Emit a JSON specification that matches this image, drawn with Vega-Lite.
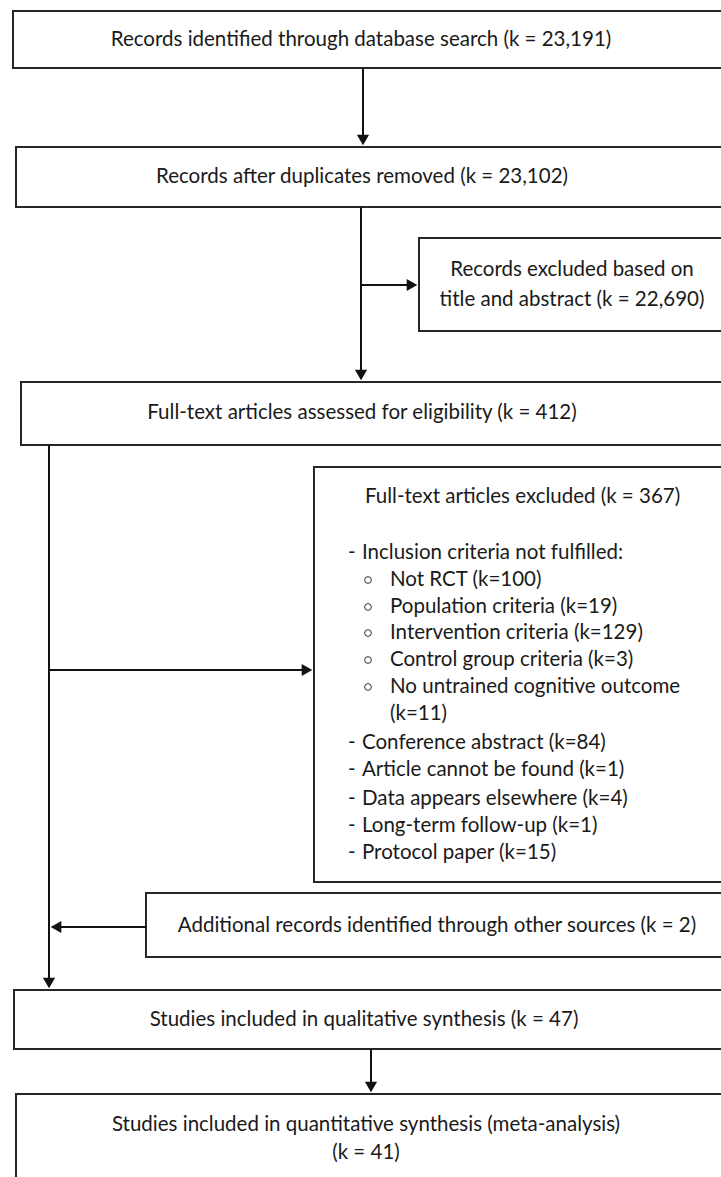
{
  "$schema": "https://vega.github.io/schema/vega-lite/v6.json",
  "width": 721,
  "height": 1177,
  "autosize": {"type": "fit", "contains": "padding"},
  "padding": 0,
  "background": "white",
  "config": {"view": {"stroke": null}, "text": {"font": "Lato", "fontSize": 20.5, "color": "#1a1a1a"}},
  "datasets": {
    "boxes": [
      {"box": "identified", "x1": 13, "x2": 730, "y1": 11, "y2": 68},
      {"box": "deduplicated", "x1": 16, "x2": 730, "y1": 147, "y2": 207},
      {"box": "excluded_title", "x1": 419, "x2": 730, "y1": 238, "y2": 331},
      {"box": "fulltext", "x1": 21, "x2": 730, "y1": 382, "y2": 445},
      {"box": "excluded_fulltext", "x1": 314, "x2": 730, "y1": 467, "y2": 882},
      {"box": "additional", "x1": 146, "x2": 730, "y1": 893, "y2": 957},
      {"box": "qualitative", "x1": 14, "x2": 730, "y1": 990, "y2": 1049},
      {"box": "quantitative", "x1": 16, "x2": 730, "y1": 1094, "y2": 1200}
    ],
    "connectors": [
      {"x1": 363, "y1": 68, "x2": 363, "y2": 140},
      {"x1": 361, "y1": 207, "x2": 361, "y2": 375},
      {"x1": 361, "y1": 285, "x2": 410, "y2": 285},
      {"x1": 49, "y1": 445, "x2": 49, "y2": 982},
      {"x1": 49, "y1": 670, "x2": 306, "y2": 670},
      {"x1": 146, "y1": 927, "x2": 56, "y2": 927},
      {"x1": 371, "y1": 1049, "x2": 371, "y2": 1087}
    ],
    "heads": [
      {"x": 363, "y": 140, "dir": "down"},
      {"x": 361, "y": 375, "dir": "down"},
      {"x": 412, "y": 285, "dir": "right"},
      {"x": 307, "y": 670, "dir": "right"},
      {"x": 56, "y": 927, "dir": "left"},
      {"x": 49, "y": 983, "dir": "down"},
      {"x": 371, "y": 1087, "dir": "down"}
    ],
    "labels": [
      {"text": "Records identified through database search (k = 23,191)", "x": 361, "y": 40},
      {"text": "Records after duplicates removed (k = 23,102)", "x": 362, "y": 177},
      {"text": "Records excluded based on", "x": 572, "y": 270},
      {"text": "title and abstract (k = 22,690)", "x": 572, "y": 300},
      {"text": "Full-text articles assessed for eligibility (k = 412)", "x": 362, "y": 413},
      {"text": "Additional records identified through other sources (k = 2)", "x": 437, "y": 926},
      {"text": "Studies included in qualitative synthesis (k = 47)", "x": 364, "y": 1020},
      {"text": "Studies included in quantitative synthesis (meta-analysis)", "x": 366, "y": 1125},
      {"text": "(k = 41)", "x": 366, "y": 1153}
    ],
    "listItems": [
      {"marker": "", "mx": 348, "text": "Full-text articles excluded (k = 367)", "tx": 365, "y": 497},
      {"marker": "-", "mx": 348, "text": "Inclusion criteria not fulfilled:", "tx": 362, "y": 553},
      {"marker": "o", "mx": 368, "text": "Not RCT (k=100)", "tx": 390, "y": 580},
      {"marker": "o", "mx": 368, "text": "Population criteria (k=19)", "tx": 390, "y": 607},
      {"marker": "o", "mx": 368, "text": "Intervention criteria (k=129)", "tx": 390, "y": 633},
      {"marker": "o", "mx": 368, "text": "Control group criteria (k=3)", "tx": 390, "y": 660},
      {"marker": "o", "mx": 368, "text": "No untrained cognitive outcome", "tx": 390, "y": 687},
      {"marker": "", "mx": 368, "text": "(k=11)", "tx": 390, "y": 714},
      {"marker": "-", "mx": 348, "text": "Conference abstract (k=84)", "tx": 362, "y": 743},
      {"marker": "-", "mx": 348, "text": "Article cannot be found (k=1)", "tx": 362, "y": 770},
      {"marker": "-", "mx": 348, "text": "Data appears elsewhere (k=4)", "tx": 362, "y": 799},
      {"marker": "-", "mx": 348, "text": "Long-term follow-up (k=1)", "tx": 362, "y": 826},
      {"marker": "-", "mx": 348, "text": "Protocol paper (k=15)", "tx": 362, "y": 853}
    ]
  },
  "layer": [
    {
      "data": {"name": "boxes"},
      "mark": {"type": "rect", "fill": "white", "stroke": "#262626", "strokeWidth": 2, "clip": true},
      "encoding": {
        "x": {"field": "x1", "type": "quantitative", "scale": {"domain": [0, 721], "nice": false, "zero": false}, "axis": null},
        "x2": {"field": "x2"},
        "y": {"field": "y1", "type": "quantitative", "scale": {"domain": [0, 1177], "nice": false, "zero": false, "reverse": true}, "axis": null},
        "y2": {"field": "y2"}
      }
    },
    {
      "data": {"name": "connectors"},
      "mark": {"type": "rule", "stroke": "#111111", "strokeWidth": 2},
      "encoding": {
        "x": {"field": "x1", "type": "quantitative"},
        "x2": {"field": "x2"},
        "y": {"field": "y1", "type": "quantitative"},
        "y2": {"field": "y2"}
      }
    },
    {
      "data": {"name": "heads"},
      "mark": {"type": "point", "filled": true, "fill": "#111111", "stroke": null, "opacity": 1, "size": 150},
      "encoding": {
        "x": {"field": "x", "type": "quantitative"},
        "y": {"field": "y", "type": "quantitative"},
        "shape": {"field": "dir", "type": "nominal", "scale": {"domain": ["down", "right", "left"], "range": ["triangle-down", "triangle-right", "triangle-left"]}, "legend": null}
      }
    },
    {
      "data": {"name": "labels"},
      "mark": {"type": "text", "align": "center", "baseline": "middle"},
      "encoding": {
        "x": {"field": "x", "type": "quantitative"},
        "y": {"field": "y", "type": "quantitative"},
        "text": {"field": "text"}
      }
    },
    {
      "data": {"name": "listItems"},
      "mark": {"type": "text", "align": "left", "baseline": "middle"},
      "encoding": {
        "x": {"field": "tx", "type": "quantitative"},
        "y": {"field": "y", "type": "quantitative"},
        "text": {"field": "text"}
      }
    },
    {
      "data": {"name": "listItems"},
      "transform": [{"filter": "datum.marker === '-'"}],
      "mark": {"type": "text", "align": "left", "baseline": "middle"},
      "encoding": {
        "x": {"field": "mx", "type": "quantitative"},
        "y": {"field": "y", "type": "quantitative"},
        "text": {"field": "marker"}
      }
    },
    {
      "data": {"name": "listItems"},
      "transform": [{"filter": "datum.marker === 'o'"}],
      "mark": {"type": "point", "filled": false, "stroke": "#333333", "strokeWidth": 1, "size": 45, "opacity": 1},
      "encoding": {
        "x": {"field": "mx", "type": "quantitative"},
        "y": {"field": "y", "type": "quantitative"}
      }
    }
  ]
}
